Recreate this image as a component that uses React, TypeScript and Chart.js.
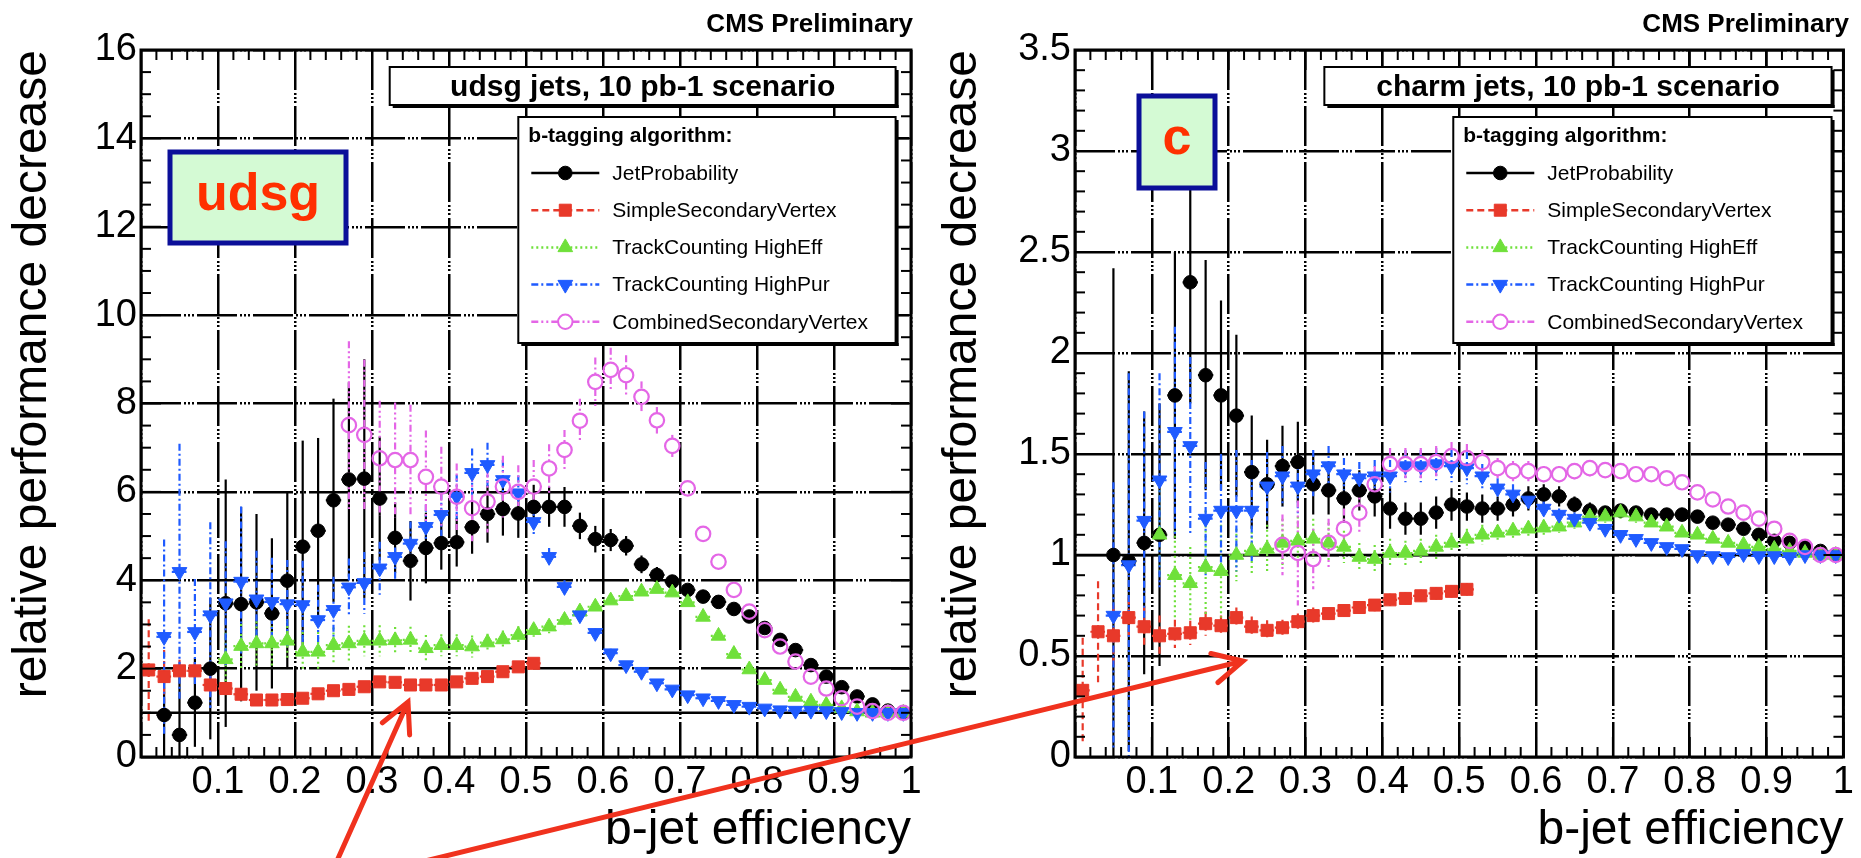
import { useEffect, useRef } from 'react';
import { Chart, registerables } from 'chart.js';

Chart.register(...registerables);

const FONT = '"Liberation Sans", Arial, Helvetica, sans-serif';
const PAGE_W = 1861;
const PAGE_H = 858;
const PLOT_TOP = 50;
const PLOT_BOTTOM = 757;
const BIN_HALF = 0.01;
const GRID_DASH = [40, 3, 2, 2, 2, 2, 2, 3];

// bin centres of the b-jet efficiency scan
const EFF_BINS = [
  0.01, 0.03, 0.05, 0.07, 0.09, 0.11, 0.13, 0.15, 0.17, 0.19,
  0.21, 0.23, 0.25, 0.27, 0.29, 0.31, 0.33, 0.35, 0.37, 0.39,
  0.41, 0.43, 0.45, 0.47, 0.49, 0.51, 0.53, 0.55, 0.57, 0.59,
  0.61, 0.63, 0.65, 0.67, 0.69, 0.71, 0.73, 0.75, 0.77, 0.79,
  0.81, 0.83, 0.85, 0.87, 0.89, 0.91, 0.93, 0.95, 0.97, 0.99,
];

const X_TICKS = [0, 0.1, 0.2, 0.3, 0.4, 0.5, 0.6, 0.7, 0.8, 0.9, 1];

// ---- udsg jets ----
const UDSG_JP = [0.95, 0.50, 1.23, 2.00, 3.48, 3.46, 3.50, 3.25, 3.99, 4.76, 5.12, 5.81, 6.28, 6.30, 5.85, 4.96, 4.44, 4.73, 4.84, 4.86, 5.20, 5.50, 5.61, 5.51, 5.66, 5.66, 5.66, 5.23, 4.93, 4.91, 4.78, 4.36, 4.12, 3.97, 3.78, 3.63, 3.51, 3.35, 3.18, 2.92, 2.65, 2.42, 2.08, 1.82, 1.58, 1.37, 1.19, 1.05, 1.00];
const UDSG_JP_ERR = [1.0, 1.3, 1.0, 1.6, 2.8, 2.2, 2.0, 1.7, 2.0, 2.4, 2.1, 2.3, 2.2, 2.7, 1.4, 0.8, 0.9, 0.8, 0.6, 0.55, 0.6, 0.65, 0.6, 0.55, 0.5, 0.45, 0.45, 0.3, 0.3, 0.25, 0.22, 0.2, 0.18, 0.15, 0.13, 0.12, 0.1, 0.1, 0.09, 0.08, 0.08, 0.07, 0.06, 0.06, 0.05, 0.05, 0.04, 0.03, 0.02];
const UDSG_SSV = [1.97, 1.82, 1.95, 1.95, 1.63, 1.55, 1.42, 1.29, 1.29, 1.30, 1.33, 1.43, 1.50, 1.53, 1.59, 1.70, 1.69, 1.63, 1.63, 1.63, 1.70, 1.78, 1.82, 1.93, 2.04, 2.12];
const UDSG_SSV_ERR = [1.15, 0.6, 0.25, 0.2, 0.2, 0.15, 0.12, 0.12, 0.1, 0.1, 0.1, 0.1, 0.1, 0.1, 0.1, 0.1, 0.1, 0.1, 0.1, 0.1, 0.1, 0.1, 0.1, 0.1, 0.1, 0.1];
const UDSG_TCHE = [2.21, 2.51, 2.57, 2.57, 2.63, 2.38, 2.38, 2.53, 2.57, 2.63, 2.63, 2.64, 2.65, 2.46, 2.53, 2.53, 2.50, 2.59, 2.66, 2.76, 2.87, 2.95, 3.10, 3.29, 3.40, 3.54, 3.64, 3.74, 3.80, 3.72, 3.50, 3.17, 2.74, 2.33, 1.98, 1.74, 1.52, 1.36, 1.25, 1.18, 1.10, 1.03, 1.00, 1.00, 1.00];
const UDSG_TCHE_ERR = [0.6, 0.5, 0.5, 0.5, 0.45, 0.45, 0.45, 0.4, 0.4, 0.35, 0.35, 0.3, 0.3, 0.3, 0.25, 0.25, 0.25, 0.2, 0.2, 0.2, 0.15, 0.15, 0.12, 0.12, 0.1, 0.1, 0.1, 0.1, 0.08, 0.08, 0.07, 0.07, 0.06, 0.06, 0.05, 0.05, 0.04, 0.04, 0.03, 0.03, 0.03, 0.02, 0.02, 0.02, 0.02];
const UDSG_TCHP = [2.72, 4.19, 2.83, 3.21, 3.48, 3.97, 3.57, 3.51, 3.46, 3.44, 3.10, 3.33, 3.84, 3.94, 4.27, 4.53, 4.83, 5.21, 5.48, 5.89, 6.43, 6.61, 6.27, 5.97, 5.32, 4.53, 3.85, 3.21, 2.81, 2.35, 2.08, 1.93, 1.67, 1.53, 1.40, 1.33, 1.27, 1.18, 1.14, 1.10, 1.06, 1.05, 1.05, 1.04, 1.02, 1.00, 1.00, 1.00, 1.00];
const UDSG_TCHP_ERR = [2.2, 2.9, 1.2, 2.1, 1.4, 1.7, 1.1, 1.0, 1.0, 1.0, 0.8, 0.75, 0.65, 0.7, 0.6, 0.55, 0.5, 0.5, 0.5, 0.5, 0.55, 0.5, 0.45, 0.4, 0.3, 0.2, 0.15, 0.12, 0.1, 0.1, 0.08, 0.07, 0.06, 0.05, 0.05, 0.04, 0.04, 0.03, 0.03, 0.03, 0.02, 0.02, 0.02, 0.02, 0.02, 0.01, 0.01, 0.01, 0.01];
const UDSG_CSV = [7.51, 7.29, 6.76, 6.72, 6.72, 6.34, 6.12, 5.89, 5.63, 5.78, 6.12, 6.00, 6.12, 6.53, 6.95, 7.61, 8.49, 8.76, 8.64, 8.15, 7.62, 7.04, 6.08, 5.05, 4.42, 3.78, 3.29, 2.87, 2.50, 2.16, 1.82, 1.55, 1.33, 1.14, 1.04, 1.00, 1.00];
const UDSG_CSV_ERR = [1.9, 1.7, 1.3, 1.3, 1.25, 1.05, 0.9, 0.75, 0.75, 0.7, 0.7, 0.6, 0.6, 0.55, 0.45, 0.5, 0.55, 0.5, 0.45, 0.35, 0.3, 0.25, 0.15, 0.1, 0.1, 0.08, 0.07, 0.06, 0.05, 0.05, 0.04, 0.04, 0.03, 0.03, 0.02, 0.02, 0.02];

// ---- charm jets ----
const CHARM_JP = [1.00, 0.97, 1.06, 1.10, 1.79, 2.35, 1.89, 1.79, 1.69, 1.41, 1.35, 1.44, 1.46, 1.35, 1.32, 1.28, 1.32, 1.29, 1.23, 1.18, 1.18, 1.21, 1.25, 1.24, 1.23, 1.23, 1.25, 1.28, 1.30, 1.29, 1.25, 1.22, 1.21, 1.22, 1.21, 1.20, 1.20, 1.20, 1.19, 1.16, 1.15, 1.13, 1.10, 1.07, 1.06, 1.04, 1.02, 1.00];
const CHARM_JP_ERR = [1.42, 0.94, 0.65, 0.65, 0.71, 0.6, 0.57, 0.47, 0.4, 0.28, 0.22, 0.2, 0.2, 0.15, 0.12, 0.12, 0.1, 0.1, 0.1, 0.08, 0.08, 0.08, 0.08, 0.07, 0.07, 0.06, 0.06, 0.06, 0.05, 0.05, 0.04, 0.04, 0.03, 0.03, 0.03, 0.03, 0.02, 0.02, 0.02, 0.02, 0.02, 0.02, 0.02, 0.015, 0.01, 0.01, 0.01, 0.01];
const CHARM_SSV = [0.33, 0.62, 0.60, 0.69, 0.645, 0.60, 0.61, 0.615, 0.66, 0.65, 0.69, 0.645, 0.627, 0.64, 0.67, 0.70, 0.71, 0.725, 0.74, 0.752, 0.778, 0.785, 0.798, 0.81, 0.82, 0.83];
const CHARM_SSV_ERR = [0.26, 0.25, 0.15, 0.1, 0.1, 0.1, 0.07, 0.06, 0.06, 0.05, 0.05, 0.05, 0.05, 0.04, 0.04, 0.04, 0.03, 0.03, 0.03, 0.03, 0.03, 0.03, 0.03, 0.03, 0.03, 0.03];
const CHARM_TCHE = [1.10, 0.90, 0.86, 0.94, 0.92, 1.00, 1.02, 1.03, 1.06, 1.07, 1.08, 1.06, 1.04, 0.99, 0.98, 1.01, 1.01, 1.02, 1.04, 1.06, 1.08, 1.10, 1.11, 1.12, 1.13, 1.135, 1.14, 1.16, 1.19, 1.19, 1.21, 1.19, 1.16, 1.14, 1.11, 1.10, 1.08, 1.06, 1.05, 1.04, 1.03, 1.02, 1.01, 1.00, 1.00];
const CHARM_TCHE_ERR = [0.22, 0.22, 0.18, 0.28, 0.23, 0.13, 0.12, 0.12, 0.12, 0.12, 0.1, 0.1, 0.08, 0.07, 0.07, 0.07, 0.06, 0.06, 0.06, 0.05, 0.05, 0.05, 0.04, 0.04, 0.04, 0.04, 0.03, 0.03, 0.03, 0.03, 0.03, 0.03, 0.02, 0.02, 0.02, 0.02, 0.02, 0.02, 0.02, 0.02, 0.01, 0.01, 0.01, 0.01, 0.01];
const CHARM_TCHP = [0.70, 0.95, 1.17, 1.37, 1.61, 1.54, 1.18, 1.22, 1.22, 1.22, 1.34, 1.39, 1.34, 1.40, 1.44, 1.40, 1.38, 1.39, 1.39, 1.44, 1.44, 1.45, 1.44, 1.43, 1.39, 1.33, 1.30, 1.27, 1.23, 1.20, 1.18, 1.16, 1.13, 1.10, 1.08, 1.06, 1.04, 1.03, 1.00, 0.995, 0.99, 1.005, 0.995, 0.995, 0.99, 1.00, 1.00, 1.00];
const CHARM_TCHP_ERR = [0.66, 0.95, 0.54, 0.53, 0.52, 0.44, 0.28, 0.28, 0.3, 0.25, 0.17, 0.15, 0.14, 0.12, 0.1, 0.08, 0.08, 0.08, 0.08, 0.08, 0.08, 0.08, 0.08, 0.08, 0.06, 0.05, 0.05, 0.04, 0.04, 0.03, 0.03, 0.03, 0.02, 0.02, 0.02, 0.02, 0.02, 0.02, 0.02, 0.01, 0.01, 0.01, 0.01, 0.01, 0.01, 0.01, 0.01, 0.01];
const CHARM_CSV = [1.05, 1.01, 0.98, 1.06, 1.13, 1.21, 1.35, 1.45, 1.45, 1.45, 1.46, 1.49, 1.48, 1.46, 1.43, 1.415, 1.415, 1.40, 1.40, 1.415, 1.43, 1.42, 1.415, 1.40, 1.40, 1.38, 1.36, 1.31, 1.275, 1.24, 1.21, 1.18, 1.13, 1.07, 1.04, 1.00, 1.00];
const CHARM_CSV_ERR = [0.15, 0.26, 0.15, 0.12, 0.1, 0.1, 0.09, 0.08, 0.08, 0.08, 0.08, 0.07, 0.07, 0.06, 0.05, 0.05, 0.05, 0.04, 0.04, 0.04, 0.04, 0.03, 0.03, 0.03, 0.03, 0.03, 0.02, 0.02, 0.02, 0.02, 0.02, 0.02, 0.01, 0.01, 0.01, 0.01, 0.01];

type Algo = {
  name: string;
  color: string;
  style: 'circle' | 'rect' | 'triangle';
  radius: number;
  rotation: number;
  filled: boolean;
  dash: number[];
  order: number;
};

const ALGOS: Algo[] = [
  { name: 'JetProbability', color: '#000000', style: 'circle', radius: 6.8, rotation: 0, filled: true, dash: [], order: 4 },
  { name: 'SimpleSecondaryVertex', color: '#e8392a', style: 'rect', radius: 8.5, rotation: 0, filled: true, dash: [7, 4], order: 3 },
  { name: 'TrackCounting HighEff', color: '#6fe03a', style: 'triangle', radius: 8.5, rotation: 0, filled: true, dash: [2, 3], order: 2 },
  { name: 'TrackCounting HighPur', color: '#1f5bff', style: 'triangle', radius: 8.5, rotation: 180, filled: true, dash: [7, 3, 2, 3], order: 1 },
  { name: 'CombinedSecondaryVertex', color: '#e466e6', style: 'circle', radius: 7.2, rotation: 0, filled: false, dash: [7, 3, 2, 3, 2, 3], order: 0 },
];

type Series = { start: number; values: number[]; errors: number[] };

type PanelDef = {
  offsetX: number;
  canvasW: number;
  plotLeft: number;
  plotRight: number;
  yMax: number;
  yStep: number;
  yMinor: number;
  scenario: string;
  tag: string;
  tagBox: [number, number, number, number];
  series: Series[];
};

const PANELS: PanelDef[] = [
  {
    offsetX: 0,
    canvasW: 930,
    plotLeft: 141,
    plotRight: 911,
    yMax: 16,
    yStep: 2,
    yMinor: 0.5,
    scenario: 'udsg jets, 10 pb-1 scenario',
    tag: 'udsg',
    tagBox: [170, 152, 346, 243],
    series: [
      { start: 1, values: UDSG_JP, errors: UDSG_JP_ERR },
      { start: 0, values: UDSG_SSV, errors: UDSG_SSV_ERR },
      { start: 5, values: UDSG_TCHE, errors: UDSG_TCHE_ERR },
      { start: 1, values: UDSG_TCHP, errors: UDSG_TCHP_ERR },
      { start: 13, values: UDSG_CSV, errors: UDSG_CSV_ERR },
    ],
  },
  {
    offsetX: 930,
    canvasW: 931,
    plotLeft: 1075,
    plotRight: 1847,
    yMax: 3.5,
    yStep: 0.5,
    yMinor: 0.1,
    scenario: 'charm jets, 10 pb-1 scenario',
    tag: 'c',
    tagBox: [1139, 96, 1215, 188],
    series: [
      { start: 2, values: CHARM_JP, errors: CHARM_JP_ERR },
      { start: 0, values: CHARM_SSV, errors: CHARM_SSV_ERR },
      { start: 5, values: CHARM_TCHE, errors: CHARM_TCHE_ERR },
      { start: 2, values: CHARM_TCHP, errors: CHARM_TCHP_ERR },
      { start: 13, values: CHARM_CSV, errors: CHARM_CSV_ERR },
    ],
  },
];

// pointer arrows (page coordinates): tail, tip
const ARROWS: [number, number, number, number][] = [
  [332, 872, 408, 702],
  [380, 872, 1243, 661],
];

function drawMarker(ctx: CanvasRenderingContext2D, a: Algo, x: number, y: number) {
  ctx.save();
  ctx.setLineDash([]);
  ctx.fillStyle = a.color;
  ctx.strokeStyle = a.color;
  ctx.lineWidth = a.filled ? 1 : 2;
  ctx.beginPath();
  const r = a.radius;
  if (a.style === 'circle') {
    ctx.arc(x, y, r, 0, Math.PI * 2);
  } else if (a.style === 'rect') {
    const h = r * Math.SQRT1_2;
    ctx.rect(x - h, y - h, 2 * h, 2 * h);
  } else {
    const d = a.rotation ? -1 : 1;
    ctx.moveTo(x, y - d * r);
    ctx.lineTo(x + r * 0.866, y + d * r * 0.5);
    ctx.lineTo(x - r * 0.866, y + d * r * 0.5);
    ctx.closePath();
  }
  if (a.filled) ctx.fill();
  ctx.stroke();
  ctx.restore();
}

function shadowBox(ctx: CanvasRenderingContext2D, x0: number, y0: number, x1: number, y1: number) {
  ctx.fillStyle = '#000';
  ctx.fillRect(x0 + 3, y1, x1 - x0, 3);
  ctx.fillRect(x1, y0 + 3, 3, y1 - y0);
  ctx.fillStyle = '#fff';
  ctx.fillRect(x0, y0, x1 - x0, y1 - y0);
  ctx.strokeStyle = '#000';
  ctx.lineWidth = 2;
  ctx.setLineDash([]);
  ctx.strokeRect(x0, y0, x1 - x0, y1 - y0);
}

function segment(ctx: CanvasRenderingContext2D, x0: number, y0: number, x1: number, y1: number) {
  ctx.beginPath();
  ctx.moveTo(x0, y0);
  ctx.lineTo(x1, y1);
  ctx.stroke();
}

function makeDecor(panel: PanelDef) {
  return {
    id: 'panelDecor',
    beforeDatasetsDraw(chart: any) {
      const { ctx, chartArea: a } = chart;
      const xs = chart.scales.x;
      const ys = chart.scales.y;
      ctx.save();
      ctx.beginPath();
      ctx.rect(a.left, a.top, a.right - a.left, a.bottom - a.top);
      ctx.clip();
      // unit reference line
      ctx.strokeStyle = '#000';
      ctx.lineWidth = 2.5;
      ctx.setLineDash([]);
      segment(ctx, a.left, ys.getPixelForValue(1), a.right, ys.getPixelForValue(1));
      // error bars, interrupted where the marker sits
      ALGOS.forEach((algo, k) => {
        const s = panel.series[k];
        const gap = algo.filled ? 0 : algo.radius;
        ctx.strokeStyle = algo.color;
        ctx.lineWidth = 2.2;
        ctx.setLineDash(algo.dash);
        s.values.forEach((v, i) => {
          const x = EFF_BINS[s.start + i];
          const e = s.errors[i];
          const px = xs.getPixelForValue(x);
          const py = ys.getPixelForValue(v);
          const top = ys.getPixelForValue(v + e);
          const bot = ys.getPixelForValue(v - e);
          if (py - gap > top) segment(ctx, px, top, px, py - gap);
          if (py + gap < bot) segment(ctx, px, py + gap, px, bot);
          segment(ctx, xs.getPixelForValue(x - BIN_HALF), py, px - gap, py);
          segment(ctx, px + gap, py, xs.getPixelForValue(x + BIN_HALF), py);
        });
      });
      ctx.restore();
    },
    afterDraw(chart: any) {
      const { ctx, chartArea: a } = chart;
      const xs = chart.scales.x;
      const ys = chart.scales.y;
      const W = a.right - a.left;
      ctx.save();
      ctx.setLineDash([]);

      // frame and tick marks on all four sides
      ctx.strokeStyle = '#000';
      ctx.lineWidth = 3;
      ctx.strokeRect(a.left, a.top, W, a.bottom - a.top);
      ctx.lineWidth = 2;
      for (let k = 0; k <= 50; k++) {
        const px = xs.getPixelForValue(k * 0.02);
        const len = k % 5 === 0 ? 20 : 10;
        segment(ctx, px, a.bottom, px, a.bottom - len);
        segment(ctx, px, a.top, px, a.top + len);
      }
      const nMinor = Math.round(panel.yMax / panel.yMinor);
      const perMajor = Math.round(panel.yStep / panel.yMinor);
      for (let k = 0; k <= nMinor; k++) {
        const py = ys.getPixelForValue(k * panel.yMinor);
        const len = k % perMajor === 0 ? 20 : 10;
        segment(ctx, a.left, py, a.left + len, py);
        segment(ctx, a.right, py, a.right - len, py);
      }

      const ox = panel.offsetX;
      ctx.translate(-ox, 0);
      const L = panel.plotLeft;
      const PW = panel.plotRight - panel.plotLeft;

      // scenario header box
      const sx0 = L + 0.323 * PW;
      const sx1 = L + 0.98 * PW;
      shadowBox(ctx, sx0, 67, sx1, 105);
      ctx.fillStyle = '#000';
      ctx.font = `bold 30px ${FONT}`;
      ctx.textAlign = 'center';
      ctx.textBaseline = 'alphabetic';
      ctx.fillText(panel.scenario, (sx0 + sx1) / 2, 96);

      // legend
      const lx0 = L + 0.49 * PW;
      const lx1 = sx1;
      shadowBox(ctx, lx0, 117, lx1, 343);
      ctx.fillStyle = '#000';
      ctx.textAlign = 'left';
      ctx.font = `bold 21px ${FONT}`;
      ctx.fillText('b-tagging algorithm:', lx0 + 10, 142);
      ctx.font = `21px ${FONT}`;
      ALGOS.forEach((algo, k) => {
        const cy = 173 + k * 37.2;
        const gap = algo.filled ? 0 : algo.radius;
        ctx.strokeStyle = algo.color;
        ctx.lineWidth = 2.5;
        ctx.setLineDash(algo.dash);
        segment(ctx, lx0 + 13, cy, lx0 + 47 - gap, cy);
        segment(ctx, lx0 + 47 + gap, cy, lx0 + 81, cy);
        drawMarker(ctx, algo, lx0 + 47, cy);
        ctx.fillStyle = '#000';
        ctx.textBaseline = 'middle';
        ctx.fillText(algo.name, lx0 + 94, cy + 1);
      });
      ctx.setLineDash([]);

      // flavour tag
      const [tx0, ty0, tx1, ty1] = panel.tagBox;
      ctx.fillStyle = '#d4fad4';
      ctx.fillRect(tx0, ty0, tx1 - tx0, ty1 - ty0);
      ctx.strokeStyle = '#0b0f99';
      ctx.lineWidth = 5;
      ctx.strokeRect(tx0, ty0, tx1 - tx0, ty1 - ty0);
      ctx.fillStyle = '#ff3000';
      ctx.font = `bold 52px ${FONT}`;
      ctx.textAlign = 'center';
      ctx.textBaseline = 'middle';
      ctx.fillText(panel.tag, (tx0 + tx1) / 2, (ty0 + ty1) / 2 - 2);

      // experiment label
      ctx.fillStyle = '#000';
      ctx.font = `bold 26px ${FONT}`;
      ctx.textAlign = 'right';
      ctx.textBaseline = 'alphabetic';
      ctx.fillText('CMS Preliminary', panel.plotRight + 2, 32);

      // pointer arrows
      ctx.strokeStyle = '#f0321e';
      ctx.lineWidth = 5;
      ctx.lineCap = 'round';
      ARROWS.forEach(([x0, y0, x1, y1]) => {
        const ang = Math.atan2(y0 - y1, x0 - x1);
        const hl = 33;
        const spread = 0.47;
        ctx.beginPath();
        ctx.moveTo(x0, y0);
        ctx.lineTo(x1, y1);
        ctx.moveTo(x1 + hl * Math.cos(ang - spread), y1 + hl * Math.sin(ang - spread));
        ctx.lineTo(x1, y1);
        ctx.lineTo(x1 + hl * Math.cos(ang + spread), y1 + hl * Math.sin(ang + spread));
        ctx.stroke();
      });
      ctx.restore();
    },
  };
}

function fmt(v: number) {
  return String(Math.round(v * 10) / 10);
}

function Panel({ panel }: { panel: PanelDef }) {
  const ref = useRef<HTMLCanvasElement>(null);
  useEffect(() => {
    if (!ref.current) return;
    const datasets = ALGOS.map((algo, k) => {
      const s = panel.series[k];
      return {
        label: algo.name,
        data: s.values.map((v, i) => ({ x: EFF_BINS[s.start + i], y: v })),
        showLine: false,
        order: algo.order,
        pointStyle: algo.style,
        pointRadius: algo.radius,
        pointRotation: algo.rotation,
        pointBackgroundColor: algo.filled ? algo.color : 'rgba(0,0,0,0)',
        pointBorderColor: algo.color,
        pointBorderWidth: algo.filled ? 1 : 2.2,
      };
    });
    const tickFont = { family: FONT, size: 38, lineHeight: 1 };
    const titleFont = { family: FONT, size: 48, lineHeight: 1 };
    const chart = new Chart(ref.current, {
      type: 'scatter',
      data: { datasets },
      plugins: [makeDecor(panel)],
      options: {
        animation: false,
        responsive: false,
        devicePixelRatio: 1,
        events: [],
        layout: { padding: { left: 0, right: panel.offsetX + panel.canvasW - panel.plotRight, top: PLOT_TOP, bottom: 0 } },
        plugins: { legend: { display: false }, tooltip: { enabled: false } },
        scales: {
          x: {
            type: 'linear',
            min: 0,
            max: 1,
            afterFit: (s: any) => {
              s.height = PAGE_H - PLOT_BOTTOM;
            },
            afterBuildTicks: (s: any) => {
              s.ticks = X_TICKS.map((v) => ({ value: v }));
            },
            ticks: {
              autoSkip: false,
              maxRotation: 0,
              color: '#000',
              font: tickFont,
              padding: 7,
              callback: (v: any) => (Math.abs(Number(v)) < 1e-9 ? '' : fmt(Number(v))),
            },
            grid: { color: '#000', lineWidth: 2.5, drawTicks: false },
            border: { display: false, dash: GRID_DASH },
            title: { display: true, text: 'b-jet efficiency', align: 'end', color: '#000', font: titleFont, padding: { top: 0, bottom: 3 } },
          },
          y: {
            type: 'linear',
            min: 0,
            max: panel.yMax,
            afterFit: (s: any) => {
              s.width = panel.plotLeft - panel.offsetX;
            },
            ticks: {
              stepSize: panel.yStep,
              autoSkip: false,
              color: '#000',
              font: tickFont,
              padding: 4,
              callback: (v: any) => fmt(Number(v)),
            },
            grid: { color: '#000', lineWidth: 2.5, drawTicks: false },
            border: { display: false, dash: GRID_DASH },
            title: { display: true, text: 'relative performance decrease', align: 'end', color: '#000', font: titleFont, padding: { top: 9, bottom: 0 } },
          },
        },
      } as any,
    });
    return () => chart.destroy();
  }, [panel]);
  return (
    <canvas
      ref={ref}
      width={panel.canvasW}
      height={PAGE_H}
      style={{ position: 'absolute', left: panel.offsetX, top: 0, width: panel.canvasW, height: PAGE_H }}
    />
  );
}

export default function App() {
  return (
    <div style={{ position: 'absolute', left: 0, top: 0, width: PAGE_W, height: PAGE_H, background: '#fff', overflow: 'hidden' }}>
      {PANELS.map((p) => (
        <Panel key={p.tag} panel={p} />
      ))}
    </div>
  );
}
